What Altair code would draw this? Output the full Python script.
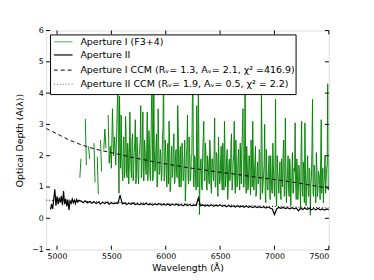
import altair as alt
import pandas as pd

# ---------------- data ----------------
X_TICKS = [5000, 5500, 6000, 6500, 7000, 7500]
Y_TICKS = [-1, 0, 1, 2, 3, 4, 5, 6]

# Aperture I (F3+4): samples every 10 A from 5200 to 7500 (None = gap)
green_wl = list(range(5200, 7510, 10))
green_val = [
    None, 1.30, 1.90, None, None, None, 3.18, 1.70, None, 2.30,
    1.90, None, None, None, 2.40, 1.15, None, 1.96, 0.77, None,
    2.50, 1.50, None, 2.20, 2.85, 2.25, None, 3.30, 1.76, 2.30,
    1.60, 3.50, 2.00, 2.60, 1.70, 2.90, 4.60, 0.80, 2.40, 3.30,
    1.50, 2.50, 1.30, 3.25, 1.40, 2.40, 1.10, 3.40, 1.60, 2.50,
    1.20, 2.10, 3.15, 1.30, 2.30, 1.10, 2.20, 3.60, 1.50, 3.40,
    1.20, 2.20, 1.40, 3.40, 1.60, 2.40, 1.20, 3.90, 1.20, 4.80,
    1.50, 2.30, 1.00, 3.50, 1.40, 2.20, 1.20, 2.60, 5.00, 1.30,
    2.10, 1.00, 2.40, 3.10, 0.85, 2.00, 1.30, 2.30, 1.10, 2.00,
    1.40, 3.60, 1.20, 2.10, 1.00, 2.40, 1.20, 1.90, 0.55, 2.00,
    3.30, 1.10, 2.10, 1.30, 2.00, 4.60, 1.00, 1.90, 0.90, 2.30,
    4.50, 0.12, 1.80, 1.00, 2.10, 3.10, 1.20, 2.00, 0.90, 1.80,
    1.10, 2.20, 0.80, 1.90, 1.20, 3.20, 1.00, 2.00, 0.70, 1.80,
    1.20, 2.30, 0.90, 1.70, 3.10, 1.00, 1.90, 0.60, 1.70, 1.20,
    2.40, 0.90, 1.80, 3.10, 0.80, 1.70, 1.10, 2.20, 0.90, 1.60,
    2.30, 3.50, 1.00, 4.60, 0.80, 1.70, 1.00, 2.00, 0.75, 1.60,
    3.10, 0.90, 1.80, 0.70, 1.50, 1.10, 2.20, 0.60, 4.00, 0.80,
    1.40, 3.00, 0.50, 1.50, 0.90, 2.00, 0.60, 1.40, 0.80, 1.70,
    0.70, 3.80, 0.40, 1.50, 0.80, 1.80, 0.60, 1.30, 2.10, 0.70,
    3.20, 0.50, 1.40, 0.90, 1.90, 0.40, 1.30, 0.80, 1.60, 3.05,
    0.60, 1.60, 0.90, 1.40, 0.30, 3.10, 0.70, 1.50, 3.05, 0.40,
    1.40, 0.80, 1.60, 0.10, 1.30, 3.80, 0.70, 1.50, 0.50, 1.60,
    0.90, 1.40, 0.60, 3.15, 1.30, 0.50, 1.40, 0.80, 1.60, 4.30,
    1.00,
]
# interleaved samples at 5565, 5575, ... 7495
green2_wl = list(range(5565, 7500, 10))
green2_val = [
    2.2, 3.9, 1.6, 2.0, 1.2, 2.6, 1.5, 2.8, 1.3, 2.1,
    1.8, 2.3, 1.3, 2.7, 1.5, 2.4, 1.1, 2.6, 1.4, 2.0,
    2.5, 1.3, 2.7, 1.2, 2.5, 1.6, 2.2, 1.2, 2.8, 1.4,
    2.6, 4.3, 1.3, 2.2, 1.6, 2.7, 1.1, 2.4, 1.5, 2.0,
    1.4, 2.9, 1.2, 2.5, 1.5, 2.2, 1.1, 2.6, 1.0, 2.3,
    1.5, 2.7, 1.2, 2.2, 1.3, 2.9, 1.0, 2.3, 1.4, 2.0,
    1.3, 2.5, 1.0, 2.3, 1.3, 2.6, 1.2, 2.0, 3.8, 1.1,
    2.0, 1.2, 3.6, 1.0, 2.3, 1.3, 1.9, 0.9, 2.6, 1.2,
    2.4, 1.0, 2.0, 1.3, 2.5, 1.1, 1.9, 1.4, 2.2, 1.0,
    2.1, 1.3, 2.6, 1.1, 1.9, 1.2, 2.4, 0.9, 2.0, 1.3,
    2.2, 1.0, 1.9, 1.4, 2.7, 1.1, 2.0, 1.2, 2.5, 1.0,
    1.9, 1.3, 2.4, 1.1, 2.7, 1.0, 2.1, 1.3, 2.3, 0.9,
    2.0, 1.2, 2.5, 1.0, 1.9, 1.3, 2.3, 0.9, 1.8, 1.2,
    2.1, 0.9, 2.6, 1.1, 1.7, 0.8, 2.2, 1.0, 1.6, 1.2,
    2.0, 0.9, 2.4, 1.1, 1.6, 0.7, 2.0, 1.2, 1.5, 0.9,
    1.9, 1.0, 2.5, 0.8, 1.7, 1.1, 2.0, 0.7, 1.6, 1.2,
    2.1, 0.8, 1.5, 1.1, 1.9, 0.6, 1.7, 1.0, 2.2, 0.9,
    1.8, 0.5, 1.6, 1.0, 2.0, 0.7, 1.5, 1.1, 2.3, 0.8,
    1.7, 1.0, 2.1, 0.7, 1.5, 1.2, 1.9, 0.8, 1.6, 1.1,
    2.0, 1.2, 1.7, 0.9,
]

# Aperture II
black_wl = list(range(4940, 5210, 10)) + list(range(5220, 7510, 20))
black_val = [
    0.28, 0.45, 0.30, 0.62, 0.93, 0.40, 0.70, 0.45, 0.66, 0.50,
    0.72, 0.42, 0.87, 0.45, 0.62, 0.38, 0.60, 0.27, 0.55, 0.48,
    0.62, 0.50, 0.58, 0.47, 0.60, 0.52, 0.58,
    0.55, 0.50, 0.56, 0.49, 0.54, 0.48, 0.53, 0.47, 0.52, 0.46,
    0.51, 0.47, 0.52, 0.45, 0.50, 0.46, 0.49, 0.47, 0.74, 0.46,
    0.49, 0.44, 0.48, 0.45, 0.49, 0.44, 0.47, 0.43, 0.47, 0.44,
    0.48, 0.43, 0.46, 0.42, 0.46, 0.43, 0.47, 0.42, 0.45, 0.42,
    0.46, 0.41, 0.45, 0.42, 0.46, 0.41, 0.44, 0.40, 0.45, 0.41,
    0.44, 0.40, 0.43, 0.41, 0.65, 0.40, 0.43, 0.39, 0.42, 0.39,
    0.43, 0.38, 0.42, 0.39, 0.43, 0.38, 0.41, 0.37, 0.41, 0.37,
    0.40, 0.36, 0.40, 0.36, 0.39, 0.35, 0.39, 0.35, 0.38, 0.34,
    0.38, 0.34, 0.37, 0.34, 0.37, 0.33, 0.36, 0.33, 0.30, 0.12,
    0.30, 0.35, 0.32, 0.35, 0.31, 0.34, 0.30, 0.34, 0.30, 0.33,
    0.24, 0.32, 0.28, 0.33, 0.28, 0.32, 0.27, 0.31, 0.27, 0.32,
    0.27, 0.30, 0.26, 0.30, 0.27,
]

# CCM fits, every 100 A
ccm_wl = list(range(4900, 7510, 100))
ccm1_val = [2.87, 2.70, 2.52, 2.38, 2.26, 2.17, 2.10, 2.02, 1.94, 1.87,
            1.80, 1.74, 1.68, 1.62, 1.57, 1.52, 1.47, 1.43, 1.38, 1.33,
            1.28, 1.24, 1.19, 1.14, 1.08, 1.02, 0.96]
ccm2_val = [0.58, 0.57, 0.555, 0.545, 0.535, 0.525, 0.515, 0.505, 0.495, 0.49,
            0.48, 0.47, 0.46, 0.455, 0.445, 0.435, 0.43, 0.42, 0.41, 0.40,
            0.39, 0.38, 0.37, 0.36, 0.35, 0.34, 0.33]

LEGEND_LABELS = [
    "Aperture I (F3+4)",
    "Aperture II",
    "Aperture I CCM (Rᵥ= 1.3, Aᵥ= 2.1, χ² =416.9)",
    "Aperture II CCM (Rᵥ= 1.9, Aᵥ= 0.5, χ² = 2.2)",
]

# ---------------- build ----------------
W, H = 289, 224
FONT = "DejaVu Sans"

pairs = sorted(zip(green_wl + green2_wl, green_val + green2_val), key=lambda p: p[0])
seg, s = [], 0
for _, v in pairs:
    if v is None:
        s += 1
    seg.append(s)
gdf = pd.DataFrame({"wl": [p[0] for p in pairs], "v": [p[1] for p in pairs], "seg": seg}).dropna()
bdf = pd.DataFrame({"wl": black_wl, "v": black_val})
c1 = pd.DataFrame({"wl": ccm_wl, "v": ccm1_val})
c2 = pd.DataFrame({"wl": ccm_wl, "v": ccm2_val})

xs = alt.Scale(domain=[4900, 7500], nice=False, zero=False)
ys = alt.Scale(domain=[-1, 6], nice=False, zero=False)
x_axis = alt.Axis(values=X_TICKS, format="d", grid=False, ticks=False, tickSize=0,
                  domain=False, labelPadding=3, labelFontSize=8, titleFontSize=9.5,
                  titlePadding=2, title="Wavelength (Å)", labelColor="black",
                  titleColor="black", titleFontWeight="normal", labelFont=FONT, titleFont=FONT)
y_axis = alt.Axis(values=Y_TICKS, format="d", grid=False, ticks=False, tickSize=0,
                  domain=False, labelPadding=3, labelFontSize=8, titleFontSize=9.5,
                  titlePadding=7, title="Optical Depth (A(λ))", labelColor="black",
                  titleColor="black", titleFontWeight="normal", labelFont=FONT, titleFont=FONT)

X = alt.X("wl:Q", scale=xs, axis=x_axis)
Y = alt.Y("v:Q", scale=ys, axis=y_axis)

green = alt.Chart(gdf).mark_line(color="#008000", strokeWidth=1, opacity=0.95, clip=True).encode(
    x=X, y=Y, detail="seg:N")
dotted = alt.Chart(c2).mark_line(color="black", strokeWidth=1, strokeDash=[1, 2], clip=True).encode(x=X, y=Y)
black = alt.Chart(bdf).mark_line(color="black", strokeWidth=1.2, clip=True).encode(x=X, y=Y)
dashed = alt.Chart(c1).mark_line(color="black", strokeWidth=1, strokeDash=[4, 3], clip=True).encode(x=X, y=Y)

xt = pd.DataFrame({"wl": X_TICKS})
yt = pd.DataFrame({"v": Y_TICKS})
tick_b = alt.Chart(xt).mark_rule(color="black").encode(x=X, y=alt.value(H - 4), y2=alt.value(H))
tick_t = alt.Chart(xt).mark_rule(color="black").encode(x=X, y=alt.value(0), y2=alt.value(4))
tick_l = alt.Chart(yt).mark_rule(color="black").encode(y=Y, x=alt.value(0), x2=alt.value(4))
tick_r = alt.Chart(yt).mark_rule(color="black").encode(y=Y, x=alt.value(W - 4), x2=alt.value(W))

one = pd.DataFrame({"k": [0]})
box = alt.Chart(one).mark_rect(fill="white", stroke="black", strokeWidth=1).encode(
    x=alt.value(4.5), x2=alt.value(255.5), y=alt.value(4.5), y2=alt.value(65.5))

rows_y = [11.5, 25, 40.5, 55]
styles = [
    dict(color="#008000", opacity=0.55, strokeWidth=1.2),
    dict(color="black", strokeWidth=1.2),
    dict(color="black", strokeWidth=1, strokeDash=[4, 3]),
    dict(color="black", opacity=0.6, strokeWidth=1, strokeDash=[1, 2]),
]
leg_layers = [box]
for lab, yy, st in zip(LEGEND_LABELS, rows_y, styles):
    leg_layers.append(alt.Chart(one).mark_rule(**st).encode(
        x=alt.value(8), x2=alt.value(27), y=alt.value(yy)))
    leg_layers.append(alt.Chart(pd.DataFrame({"t": [lab]})).mark_text(
        align="left", baseline="middle", font=FONT, fontSize=9.7, color="black").encode(
        x=alt.value(35), y=alt.value(yy), text="t:N"))

chart = alt.layer(green, dotted, black, dashed, tick_b, tick_t, tick_l, tick_r, *leg_layers).properties(
    width=W, height=H, autosize="none",
    padding={"left": 39, "top": 20, "right": 38, "bottom": 26},
).configure_view(stroke="black", strokeWidth=1).configure(font=FONT)

chart.save("out.html", embed_options={"renderer": "svg", "actions": False})
